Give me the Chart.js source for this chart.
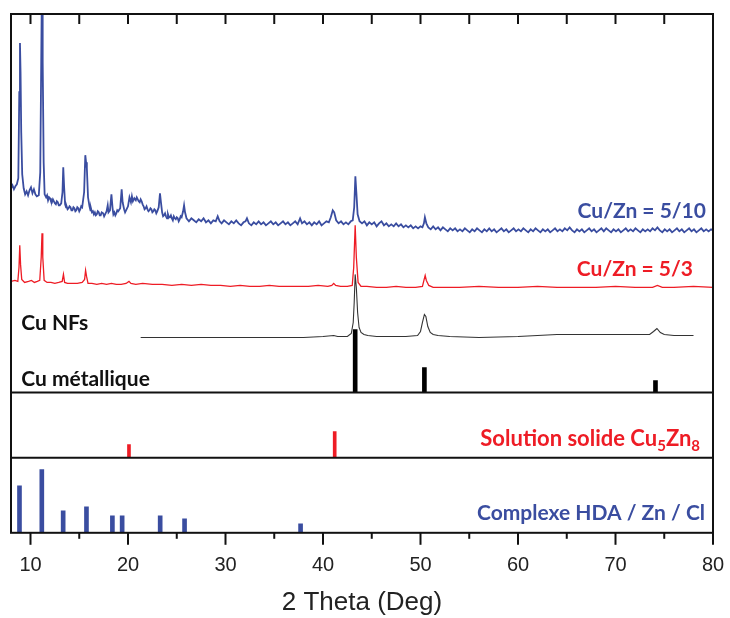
<!DOCTYPE html>
<html>
<head>
<meta charset="utf-8">
<script src="https://cdn.jsdelivr.net/npm/chart.js@4/dist/chart.umd.min.js"></script>
<style>
  html, body { margin: 0; padding: 0; background: #fff; }
  canvas { display: block; }
</style>
</head>
<body>
<canvas id="xrd" width="730" height="618"></canvas>
<script>
// 2 theta / intensity (arbitrary units, top panel)
const blueTrace = [
  [8.0, 204], [8.15, 207], [8.3, 203], [8.45, 206], [8.6, 208], [8.75, 214], [8.85, 300], [8.92, 349],
  [8.98, 320], [9.05, 260], [9.15, 218], [9.3, 204], [9.45, 198], [9.6, 201], [9.75, 197], [9.9, 202],
  [10.05, 205], [10.2, 199], [10.35, 203], [10.5, 198], [10.65, 196], [10.85, 197], [11.0, 220], [11.1, 330],
  [11.18, 420], [11.25, 330], [11.35, 230], [11.45, 198], [11.6, 195], [11.7, 197], [11.8, 192], [11.9, 195],
  [12.0, 194], [12.1, 191], [12.2, 190], [12.3, 193], [12.4, 191], [12.5, 189], [12.6, 188], [12.7, 191],
  [12.8, 190], [12.9, 187], [13.0, 187], [13.15, 189], [13.28, 200], [13.36, 225], [13.45, 205], [13.55, 188],
  [13.65, 185], [13.7, 186], [13.8, 183], [13.9, 184], [14.0, 186], [14.1, 185], [14.2, 182], [14.3, 182],
  [14.4, 185], [14.5, 184], [14.6, 181], [14.7, 182], [14.8, 185], [14.9, 184], [15.0, 181], [15.1, 183],
  [15.2, 186], [15.3, 185], [15.5, 200], [15.62, 237], [15.7, 230], [15.78, 224], [15.9, 195], [16.05, 186],
  [16.15, 182], [16.2, 184], [16.3, 180], [16.4, 181], [16.5, 178], [16.6, 180], [16.7, 177], [16.8, 178],
  [16.9, 181], [17.0, 180], [17.1, 177], [17.2, 177], [17.3, 180], [17.45, 179], [17.55, 176], [17.65, 178],
  [17.8, 181], [17.92, 187], [18.0, 180], [18.15, 182], [18.3, 198], [18.42, 184], [18.5, 178], [18.6, 180],
  [18.7, 177], [18.8, 179], [18.9, 182], [19.0, 181], [19.2, 184], [19.35, 203], [19.45, 190], [19.6, 183],
  [19.7, 180], [19.8, 182], [19.9, 184], [20.0, 186], [20.15, 195], [20.3, 190], [20.4, 196], [20.5, 191],
  [20.65, 194], [20.8, 192], [20.9, 195], [21.0, 193], [21.1, 191], [21.2, 190], [21.3, 193], [21.4, 191],
  [21.5, 188], [21.6, 186], [21.7, 183], [21.8, 184], [21.9, 186], [22.0, 183], [22.1, 181], [22.2, 182],
  [22.3, 184], [22.4, 183], [22.5, 180], [22.6, 181], [22.7, 183], [22.8, 182], [22.9, 179], [23.0, 181],
  [23.15, 185], [23.28, 199], [23.38, 190], [23.5, 180], [23.6, 176], [23.7, 177], [23.8, 179], [23.9, 176],
  [24.0, 174], [24.1, 178], [24.2, 175], [24.3, 175], [24.4, 177], [24.5, 174], [24.6, 172], [24.7, 176],
  [24.8, 174], [24.9, 173], [25.0, 175], [25.1, 174], [25.2, 171], [25.3, 173], [25.4, 176], [25.5, 175],
  [25.65, 181], [25.75, 187], [25.85, 180], [26.0, 174], [26.25, 171], [26.5, 174], [26.75, 172], [27.0, 170],
  [27.25, 173], [27.5, 171], [27.75, 174], [28.0, 170], [28.25, 172], [28.5, 169], [28.75, 172], [29.0, 171],
  [29.2, 176], [29.4, 171], [29.6, 169], [29.85, 172], [30.1, 170], [30.35, 168], [30.6, 171], [30.85, 169],
  [31.1, 172], [31.35, 169], [31.6, 167], [31.85, 170], [32.05, 171], [32.2, 174], [32.4, 169], [32.65, 167],
  [32.9, 170], [33.15, 168], [33.4, 171], [33.65, 168], [33.9, 170], [34.15, 167], [34.4, 169], [34.65, 171],
  [34.9, 168], [35.15, 170], [35.4, 167], [35.65, 169], [35.9, 171], [36.15, 168], [36.4, 170], [36.65, 167],
  [36.9, 169], [37.15, 171], [37.4, 168], [37.65, 174], [37.85, 169], [38.1, 171], [38.35, 168], [38.6, 170],
  [38.85, 167], [39.1, 170], [39.35, 168], [39.6, 171], [39.85, 167], [40.1, 169], [40.35, 171], [40.6, 170],
  [40.8, 175], [41.0, 182], [41.15, 180], [41.35, 172], [41.6, 169], [41.85, 171], [42.1, 168], [42.35, 170],
  [42.6, 168], [42.85, 171], [43.05, 172], [43.2, 185], [43.32, 216], [43.42, 200], [43.55, 178], [43.75, 171],
  [44.0, 169], [44.25, 171], [44.5, 167], [44.75, 170], [45.0, 168], [45.25, 170], [45.5, 166], [45.75, 169],
  [46.0, 171], [46.25, 167], [46.5, 169], [46.75, 166], [47.0, 168], [47.25, 166], [47.5, 169], [47.75, 166],
  [48.0, 168], [48.25, 165], [48.5, 167], [48.75, 165], [49.0, 167], [49.25, 164], [49.5, 166], [49.75, 164],
  [50.0, 166], [50.2, 165], [50.35, 169], [50.45, 175], [50.6, 169], [50.8, 165], [51.05, 163], [51.3, 166],
  [51.55, 163], [51.8, 165], [52.05, 162], [52.3, 165], [52.55, 163], [52.8, 161], [53.05, 164], [53.3, 162],
  [53.55, 164], [53.8, 161], [54.05, 163], [54.3, 161], [54.55, 164], [54.8, 162], [55.05, 160], [55.3, 163],
  [55.55, 161], [55.8, 164], [56.05, 162], [56.3, 160], [56.55, 163], [56.8, 161], [57.05, 164], [57.3, 161],
  [57.55, 163], [57.8, 160], [58.05, 162], [58.3, 164], [58.55, 161], [58.8, 163], [59.05, 160], [59.3, 162],
  [59.55, 164], [59.8, 161], [60.05, 163], [60.3, 161], [60.55, 164], [60.8, 162], [61.05, 160], [61.3, 163],
  [61.55, 161], [61.8, 164], [62.05, 162], [62.3, 160], [62.55, 163], [62.8, 161], [63.05, 163], [63.3, 160],
  [63.55, 162], [63.8, 164], [64.05, 161], [64.3, 163], [64.55, 161], [64.8, 164], [65.05, 162], [65.3, 165],
  [65.55, 162], [65.8, 160], [66.05, 163], [66.3, 161], [66.55, 163], [66.8, 160], [67.05, 162], [67.3, 164],
  [67.55, 161], [67.8, 163], [68.05, 160], [68.3, 162], [68.55, 164], [68.8, 161], [69.05, 164], [69.3, 162],
  [69.55, 160], [69.8, 163], [70.05, 161], [70.3, 163], [70.55, 160], [70.8, 162], [71.05, 164], [71.3, 161],
  [71.55, 163], [71.8, 161], [72.05, 164], [72.3, 162], [72.55, 160], [72.8, 163], [73.05, 161], [73.3, 163],
  [73.55, 161], [73.8, 164], [74.05, 162], [74.3, 165], [74.55, 162], [74.8, 160], [75.05, 163], [75.3, 161],
  [75.55, 163], [75.8, 160], [76.05, 162], [76.3, 164], [76.55, 161], [76.8, 163], [77.05, 160], [77.3, 162],
  [77.55, 164], [77.8, 161], [78.05, 163], [78.3, 160], [78.55, 162], [78.8, 164], [79.05, 161], [79.3, 163],
  [79.55, 161], [79.8, 163], [80.0, 162],
];

const redTrace = [
  [8.0, 111], [8.4, 112], [8.7, 111], [8.82, 125], [8.9, 147], [8.98, 128], [9.1, 113], [9.4, 110],
  [9.8, 111], [10.1, 112], [10.4, 110], [10.7, 111], [10.95, 112], [11.1, 135], [11.18, 159], [11.26, 135],
  [11.4, 112], [11.7, 110], [12.1, 110], [12.5, 109], [12.9, 110], [13.25, 111], [13.38, 118], [13.5, 110],
  [13.8, 109], [14.3, 109], [14.8, 109], [15.3, 110], [15.55, 113], [15.65, 122], [15.75, 116], [15.9, 109],
  [16.3, 109], [16.8, 108], [17.3, 109], [17.8, 108], [18.3, 109], [18.8, 108], [19.3, 108], [19.8, 109],
  [20.1, 111], [20.3, 109], [20.8, 108], [21.5, 109], [22.5, 108], [23.5, 108], [24.5, 107], [25.5, 108],
  [26.5, 107], [27.5, 108], [28.5, 107], [29.5, 107], [30.5, 106], [31.5, 107], [32.5, 106], [33.5, 106],
  [34.5, 107], [35.5, 106], [36.5, 106], [37.5, 106], [38.5, 106], [39.5, 107], [40.5, 106], [40.9, 107],
  [41.1, 109], [41.3, 107], [41.8, 106], [42.5, 106], [43.0, 107], [43.15, 125], [43.3, 167], [43.42, 135],
  [43.6, 110], [43.9, 106], [44.5, 106], [45.5, 105], [46.5, 105], [47.5, 106], [48.5, 105], [49.5, 105],
  [50.2, 106], [50.35, 112], [50.48, 117], [50.6, 112], [50.85, 107], [51.3, 105], [52.0, 105], [54.0, 105],
  [56.0, 106], [58.0, 105], [60.0, 105], [62.0, 106], [64.0, 105], [66.0, 105], [68.0, 105], [70.0, 106],
  [72.0, 105], [73.8, 105], [74.3, 107], [74.8, 105], [76.0, 105], [78.0, 106], [80.0, 105],
];

const blackTrace = [
  [21.3, 55], [22.5, 55], [24.0, 55], [26.0, 55], [28.0, 55], [30.0, 55], [32.0, 55], [34.0, 55],
  [36.0, 55], [38.0, 55], [40.0, 56], [41.1, 57], [41.5, 56], [42.5, 56], [42.9, 59], [43.1, 70],
  [43.2, 90], [43.3, 118], [43.42, 105], [43.55, 80], [43.7, 65], [43.9, 60], [44.2, 58], [44.6, 57],
  [45.5, 56], [47.0, 56], [48.5, 56], [49.7, 57], [50.0, 61], [50.2, 70], [50.4, 78], [50.55, 76],
  [50.75, 66], [51.0, 60], [51.3, 58], [51.8, 57], [53.0, 56], [56.0, 55], [60.0, 56], [64.0, 58],
  [70.0, 58], [73.5, 58], [73.9, 61], [74.25, 64], [74.6, 60], [75.0, 58], [76.0, 57], [78.0, 57],
];

// reference patterns: [2 theta, relative height]
const cuMetal = [[43.3, 63], [50.4, 25], [74.1, 12]];
const cu5zn8 = [[20.1, 13], [41.2, 26]];
const hdaZnCl = [[8.87, 47], [11.16, 63], [13.35, 22], [15.74, 26], [18.4, 17], [19.4, 17], [23.3, 17], [25.8, 14], [37.7, 9]];

const xTicks = [10, 20, 30, 40, 50, 60, 70, 80];

const BLUE = '#3a4da0';
const RED = '#ee1c25';
const toPts = arr => arr.map(([x, y]) => ({ x, y }));

const frameAndLabels = {
  id: 'frameAndLabels',
  afterDraw(chart) {
    const { ctx, chartArea: a, scales } = chart;
    const x = scales.x;
    const line = (x1, y1, x2, y2) => { ctx.beginPath(); ctx.moveTo(x1, y1); ctx.lineTo(x2, y2); ctx.stroke(); };
    ctx.save();
    ctx.strokeStyle = '#111';
    ctx.lineWidth = 2;
    ctx.strokeRect(a.left, a.top, a.right - a.left, a.bottom - a.top);
    line(a.left, scales.y2.top, a.right, scales.y2.top);
    line(a.left, scales.y2.bottom, a.right, scales.y2.bottom);
    for (let v = 10; v <= 80; v += 5) {
      const px = x.getPixelForValue(v);
      line(px, a.bottom, px, a.bottom + (v % 10 === 0 ? 12 : 6));
      if (v < 80) line(px, a.top, px, a.top + 10);
    }

    const text = (str, v, yScale, yv, color, size, align) => {
      ctx.font = `bold ${size}px Lato`;
      ctx.fillStyle = color;
      ctx.textAlign = align;
      ctx.textBaseline = 'alphabetic';
      ctx.fillText(str, x.getPixelForValue(v), yScale.getPixelForValue(yv));
    };
    text('Cu/Zn = 5/10', 79.28, scales.y, 174, BLUE, 21, 'right');
    text('Cu/Zn = 5/3', 77.95, scales.y, 116, RED, 21, 'right');
    text('Cu NFs', 9.05, scales.y, 62, '#111', 21, 'left');
    text('Cu métallique', 9.05, scales.y, 7, '#111', 21, 'left');
    text('Complexe HDA / Zn / Cl', 79.18, scales.y3, 13, BLUE, 21, 'right');

    // label with subscripts, laid out right to left
    const parts = [['Solution solide Cu', 22, 0], ['5', 15, 5], ['Zn', 22, 0], ['8', 15, 5]];
    let px = x.getPixelForValue(78.67);
    const base = scales.y2.getPixelForValue(12);
    ctx.fillStyle = RED;
    ctx.textAlign = 'right';
    for (let i = parts.length - 1; i >= 0; i--) {
      const [str, size, dy] = parts[i];
      ctx.font = `bold ${size}px Lato`;
      ctx.fillText(str, px, base + dy);
      px -= ctx.measureText(str).width;
    }
    ctx.restore();
  },
};

const stickSet = (data, axis, color, thickness) => ({
  type: 'bar',
  data: toPts(data),
  yAxisID: axis,
  backgroundColor: color,
  borderWidth: 0,
  barThickness: thickness,
  grouped: false,
});

const traceSet = (data, color, width) => ({
  type: 'line',
  data: toPts(data),
  yAxisID: 'y',
  borderColor: color,
  borderWidth: width,
  pointRadius: 0,
  tension: 0,
  fill: false,
});

const hiddenY = (min, max, weight) => ({
  type: 'linear',
  position: 'left',
  stack: 'panels',
  stackWeight: weight,
  min,
  max,
  ticks: { display: false },
  grid: { display: false },
  border: { display: false },
  afterFit(s) { s.width = 0; },
});

new Chart(document.getElementById('xrd'), {
  data: {
    datasets: [
      traceSet(blueTrace, BLUE, 1.8),
      traceSet(redTrace, RED, 1.3),
      traceSet(blackTrace, '#333', 1.1),
      stickSet(cuMetal, 'y', '#000', 4),
      stickSet(cu5zn8, 'y2', RED, 3),
      stickSet(hdaZnCl, 'y3', BLUE, 4),
    ],
  },
  options: {
    responsive: false,
    animation: false,
    devicePixelRatio: 1,
    layout: { padding: { left: 11, right: 17, top: 14, bottom: 0 } },
    plugins: { legend: { display: false }, tooltip: { enabled: false } },
    scales: {
      x: {
        type: 'linear',
        position: 'bottom',
        min: 8,
        max: 80,
        offset: false,
        afterBuildTicks(s) { s.ticks = xTicks.map(v => ({ value: v })); },
        // the "80" label may overhang into the layout padding
        afterFit(s) { s.paddingRight = 0; },
        ticks: { color: '#222', padding: 9, maxRotation: 0, autoSkip: false, font: { family: 'Liberation Sans', size: 20 } },
        grid: { display: true, drawOnChartArea: false, tickLength: 12, color: 'rgba(0,0,0,0)' },
        border: { display: false },
        title: {
          display: true,
          text: '2 Theta (Deg)',
          color: '#222',
          font: { family: 'Liberation Sans', size: 26 },
          padding: { top: 0, bottom: 0 },
        },
      },
      // stacked panels: first listed ends up at the bottom
      y3: hiddenY(0, 75, 75),
      y2: hiddenY(0, 65, 65),
      y: hiddenY(0, 378, 378),
    },
  },
  plugins: [frameAndLabels],
});
</script>
</body>
</html>
